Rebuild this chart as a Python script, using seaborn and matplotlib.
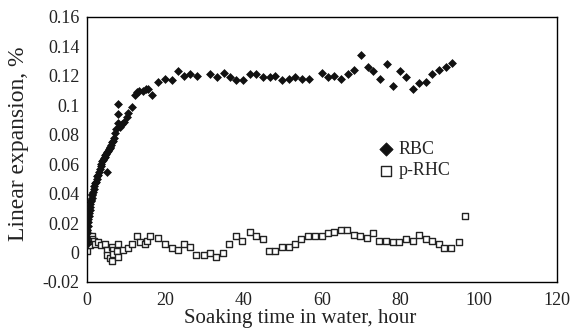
import matplotlib
matplotlib.use("Agg")
import matplotlib.pyplot as plt
import seaborn as sns
import pandas as pd

# ---- data ----
rbc_hours = [0.0, 0.05, 0.1, 0.15, 0.2, 0.3, 0.4, 0.5, 0.6, 0.7,
             0.8, 0.9, 1.0, 1.1, 1.2, 1.3, 1.4, 1.5, 1.6, 1.8,
             2.0, 2.2, 2.4, 2.6, 2.8, 3.0, 3.2, 3.4, 3.6, 3.8,
             4.0, 4.2, 4.4, 4.6, 4.8, 5.0, 5.1, 5.3, 5.5, 5.7,
             5.9, 6.1, 6.3, 6.5, 6.8, 7.0, 7.3, 7.6, 8.0, 8.1,
             8.1, 8.5, 9.0, 9.5, 10.2, 10.6, 11.5, 12.3, 12.8, 13.4,
             14.3, 15.1, 15.7, 16.6, 18.3, 20.0, 21.7, 23.4, 24.8, 26.5,
             28.2, 31.6, 33.3, 35.0, 36.6, 38.1, 39.9, 41.6, 43.3, 45.0,
             46.7, 48.2, 49.9, 51.6, 53.3, 55.0, 56.7, 60.1, 61.5, 63.2,
             64.9, 66.6, 68.3, 70.0, 71.7, 73.2, 74.9, 76.6, 78.1, 80.0,
             81.5, 83.3, 84.9, 86.6, 88.2, 89.9, 91.7, 93.2]
rbc_vals = [0.006, 0.010, 0.013, 0.008, 0.015, 0.018, 0.021, 0.023, 0.025, 0.027,
            0.029, 0.031, 0.033, 0.035, 0.036, 0.037, 0.039, 0.040, 0.041, 0.043,
            0.045, 0.047, 0.048, 0.050, 0.052, 0.053, 0.055, 0.057, 0.059, 0.060,
            0.062, 0.063, 0.064, 0.065, 0.066, 0.067, 0.055, 0.068, 0.069, 0.070,
            0.071, 0.072, 0.073, 0.075, 0.076, 0.078, 0.081, 0.084, 0.088, 0.094,
            0.101, 0.085, 0.087, 0.089, 0.092, 0.095, 0.099, 0.107, 0.109, 0.110,
            0.110, 0.111, 0.111, 0.107, 0.116, 0.118, 0.117, 0.123, 0.120, 0.121,
            0.120, 0.121, 0.119, 0.122, 0.119, 0.117, 0.117, 0.121, 0.121, 0.119,
            0.119, 0.120, 0.117, 0.118, 0.119, 0.118, 0.118, 0.122, 0.119, 0.120,
            0.118, 0.121, 0.124, 0.134, 0.126, 0.123, 0.118, 0.128, 0.113, 0.123,
            0.119, 0.111, 0.115, 0.116, 0.121, 0.124, 0.126, 0.129]

prhc_hours = [0.0, 0.0, 0.0, 0.1, 0.3, 0.5, 0.7, 1.0, 1.3, 1.5,
              1.8, 2.2, 3.0, 3.8, 4.7, 5.1, 5.1, 6.0, 6.4, 6.4,
              6.8, 6.8, 7.7, 8.1, 8.1, 9.4, 10.6, 11.5, 12.8, 13.6,
              14.9, 15.3, 16.2, 18.3, 20.0, 21.7, 23.4, 24.8, 26.5, 28.0,
              29.9, 31.6, 33.1, 34.8, 36.4, 38.2, 39.7, 41.6, 43.3, 45.0,
              46.5, 48.2, 49.9, 51.6, 53.3, 54.7, 56.6, 58.3, 60.0, 61.5,
              63.2, 64.9, 66.5, 68.2, 69.8, 71.5, 73.2, 74.7, 76.4, 78.1,
              79.8, 81.5, 83.2, 84.7, 86.6, 88.1, 89.8, 91.2, 92.9, 94.9,
              96.6]
prhc_vals = [0.001, 0.008, 0.014, 0.012, 0.010, 0.007, 0.011, 0.005, 0.011, 0.009,
             0.008, 0.006, 0.007, 0.005, 0.006, 0.002, -0.002, -0.004, -0.006, 0.004,
             0.002, -0.001, 0.001, 0.006, -0.003, 0.002, 0.003, 0.006, 0.011, 0.007,
             0.006, 0.008, 0.011, 0.010, 0.006, 0.003, 0.002, 0.006, 0.004, -0.002,
             -0.002, 0.000, -0.003, 0.000, 0.006, 0.011, 0.008, 0.014, 0.011, 0.009,
             0.001, 0.001, 0.004, 0.004, 0.006, 0.009, 0.011, 0.011, 0.011, 0.013,
             0.014, 0.015, 0.015, 0.012, 0.011, 0.010, 0.013, 0.008, 0.008, 0.007,
             0.007, 0.009, 0.008, 0.012, 0.009, 0.008, 0.006, 0.003, 0.003, 0.007,
             0.025]

x_ticks = [0, 20, 40, 60, 80, 100, 120]
y_ticks = [-0.02, 0, 0.02, 0.04, 0.06, 0.08, 0.1, 0.12, 0.14, 0.16]
y_tick_labels = ["-0.02", "0", "0.02", "0.04", "0.06", "0.08", "0.1", "0.12", "0.14", "0.16"]

# ---- plot ----
sns.set_style("white")
plt.rcParams["font.family"] = ["Liberation Serif", "DejaVu Serif"]

fig = plt.figure(figsize=(5.73, 3.30), dpi=100)
ax = fig.add_axes([0.151, 0.1455, 0.821, 0.803])

df_rbc = pd.DataFrame({"h": rbc_hours, "v": rbc_vals})
df_prhc = pd.DataFrame({"h": prhc_hours, "v": prhc_vals})

sns.scatterplot(data=df_prhc, x="h", y="v", marker="s", s=22,
                facecolor="white", edgecolor="#222222", linewidth=1.0,
                ax=ax, label="p-RHC", zorder=2)
sns.scatterplot(data=df_rbc, x="h", y="v", marker="D", s=16,
                color="#111111", edgecolor="#111111", linewidth=0.5,
                ax=ax, label="RBC", zorder=3)

ax.set_xlim(0, 120)
ax.set_ylim(-0.02, 0.16)
ax.set_xticks(x_ticks)
ax.set_yticks(y_ticks)
ax.set_yticklabels(y_tick_labels)
ax.tick_params(axis="both", direction="in", length=5, width=1, labelsize=13,
               color="black", labelcolor="#222222")
ax.tick_params(axis="x", pad=7)
ax.tick_params(axis="y", pad=5)
for sp in ax.spines.values():
    sp.set_visible(True)
    sp.set_color("black")
    sp.set_linewidth(1.0)

ax.set_xlabel("Soaking time in water, hour", fontsize=15, color="#222222")
ax.set_ylabel("Linear expansion, %", fontsize=17, color="#222222")
ax.xaxis.set_label_coords(0.455, -0.102)
ax.yaxis.set_label_coords(-0.122, 0.52)

handles, labels = ax.get_legend_handles_labels()
order = [labels.index("RBC"), labels.index("p-RHC")]
leg = ax.legend([handles[i] for i in order], [labels[i] for i in order],
                loc="center left", bbox_to_anchor=(0.603, 0.46), frameon=False,
                fontsize=13, handlelength=1.0, handletextpad=0.15,
                labelspacing=0.25, borderaxespad=0)
for h, sz in zip(leg.legend_handles, [6.8, 6.5]):
    try:
        h.set_markersize(sz)
    except AttributeError:
        h.set_sizes([sz ** 2])

fig.savefig("out.png", dpi=100)
